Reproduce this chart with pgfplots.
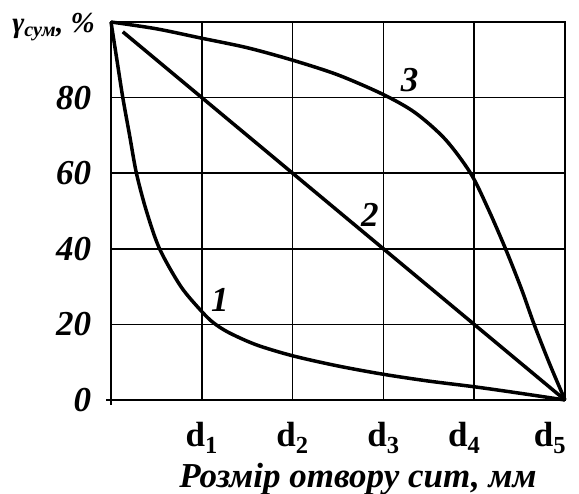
\documentclass[border=0pt]{standalone}
\usepackage{fontspec}
\setmainfont{Liberation Serif}
\usepackage{pgfplots}
\pgfplotsset{compat=1.18}
\begin{document}
\fontsize{35}{40}\selectfont
\begin{tikzpicture}
\begin{axis}[
  scale only axis, width=454pt, height=378pt,
  xmin=0, xmax=5, ymin=0, ymax=100,
  xtick={1,2,3,4,5},
  xticklabels={\textbf{d}\textsubscript{\textbf{1}},\textbf{d}\textsubscript{\textbf{2}},\textbf{d}\textsubscript{\textbf{3}},\raisebox{5pt}{\textbf{d}\textsubscript{\textbf{4}}\hspace{20pt}},\raisebox{4pt}{\textbf{d}\textsubscript{\textbf{5}}\hspace{30pt}}},
  ytick={0,20,40,60,80},
  /pgf/number format/assume math mode=true,
  yticklabel style={font=\bfseries\itshape, xshift=-8pt},
  xticklabel style={yshift=-10pt},
  grid=major,
  major grid style={black, line width=1.5pt},
  axis line style={line width=1.6pt},
  tick style={draw=none},
  xlabel={\bfseries\itshape Розмір отвору сит, мм},
  xlabel style={at={(axis description cs:0.5,0)}, anchor=center, xshift=20pt, yshift=-79pt},
  clip=false,
]
\addplot[black, line width=3.5pt, smooth] coordinates {
 (0,100) (0.065,90) (0.13,80) (0.205,70) (0.28,60) (0.39,50) (0.535,40) (0.77,30) (1.0,23.4) (1.13,20.4) (1.3,17.8) (1.6,14.6) (2,11.7) (2.5,9) (3,6.8) (3.5,5.0) (4,3.5) (4.5,1.8) (5,0)
};
\addplot[black, line width=3.5pt] coordinates {(0.13,97.4) (5,0)};
\addplot[black, line width=3.5pt, smooth] coordinates {
 (0,100) (0.5,98.2) (1,95.7) (1.5,93.2) (2,89.9) (2.5,86) (3,80.8) (3.35,76) (3.68,69) (3.96,60) (4.155,50.5) (4.345,40) (4.52,29.4) (4.66,20) (4.83,9.6) (5,0)
};
\node[font=\bfseries\itshape] at (axis cs:1.2,26.5) {1};
\node[font=\bfseries\itshape] at (axis cs:2.85,49) {2};
\node[font=\bfseries\itshape] at (axis cs:3.29,84.7) {3};
\node[anchor=east, font=\fontsize{29}{34}\selectfont\bfseries\itshape, inner sep=0pt] at (rel axis cs:0,1) [xshift=-16pt, yshift=-5pt] {γ\textsubscript{сум}, \%};
\draw[line width=1.6pt] (axis cs:0,0) -- ++(-5pt,0);
\draw[line width=1.6pt] (axis cs:0,0) -- ++(0,-5pt);
\end{axis}
\pgfresetboundingbox
\path (-111pt,-94pt) rectangle (468pt,400pt);
\end{tikzpicture}
\end{document}
